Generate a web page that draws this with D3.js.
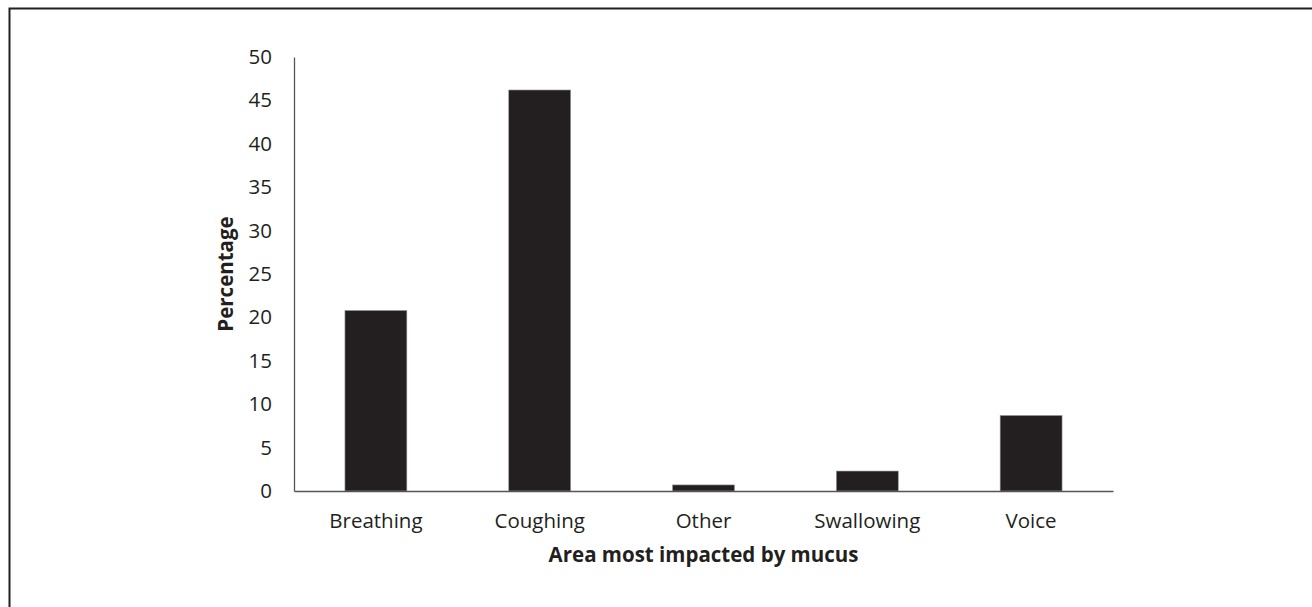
<!DOCTYPE html>
<html><head><meta charset="utf-8">
<script src="https://cdn.jsdelivr.net/npm/d3@7"></script>
<style>body{margin:0;background:#fff}svg{display:block}text{font-family:"Open Sans",sans-serif;fill:#231f20}</style>
</head><body>
<svg id="c" width="1312" height="607"></svg>
<script>
const categories = ["Breathing","Coughing","Other","Swallowing","Voice"];
const values = [20.8, 46.2, 0.7, 2.3, 8.7];
const yTicks = [0,5,10,15,20,25,30,35,40,45,50];
const xTitle = "Area most impacted by mucus";
const yTitle = "Percentage";

const svg = d3.select("#c");
const m = {l:294, r:1113, t:57, b:491};
svg.append("rect").attr("x",9.5).attr("y",8.5).attr("width",1320).attr("height",620)
  .attr("fill","none").attr("stroke","#231f20").attr("stroke-width",2);

const x = d3.scaleBand().domain(categories).range([m.l,m.r]).paddingInner(0.622).paddingOuter(0.311);
const y = d3.scaleLinear().domain([0,50]).range([m.b,m.t]);

svg.selectAll("rect.bar").data(values).join("rect").attr("class","bar")
  .attr("x",(d,i)=>x(categories[i])).attr("width",x.bandwidth())
  .attr("y",d=>y(d)).attr("height",d=>y(0)-y(d))
  .attr("fill","#231f20").attr("stroke","#9a9a9a").attr("stroke-width",0.6);

const ya = svg.append("g").attr("transform",`translate(${m.l},0)`)
  .call(d3.axisLeft(y).tickValues(yTicks).tickSize(0).tickPadding(22));
ya.select(".domain").attr("stroke","#555").attr("stroke-width",1.3);
ya.selectAll("text").attr("font-size",20.5).style("font-family","Open Sans").attr("fill","#231f20");

const xa = svg.append("g").attr("transform",`translate(0,${m.b})`)
  .call(d3.axisBottom(x).tickSize(0).tickPadding(22));
xa.select(".domain").attr("stroke","#555").attr("stroke-width",1.3);
xa.selectAll("text").attr("font-size",20.5).style("font-family","Open Sans").attr("fill","#231f20");

svg.append("text").attr("x",(m.l+m.r)/2).attr("y",562).attr("text-anchor","middle")
  .attr("font-size",20.5).attr("font-weight","bold").text(xTitle);
svg.append("text").attr("transform",`translate(233,${(m.t+m.b)/2}) rotate(-90)`)
  .attr("text-anchor","middle").attr("font-size",20.5).attr("font-weight","bold").text(yTitle);
</script>
</body></html>
